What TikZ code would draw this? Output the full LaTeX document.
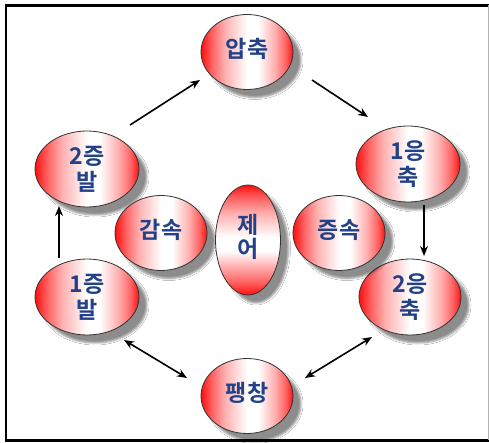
\documentclass[tikz,border=0pt]{standalone}
\usepackage{fontspec}
\newfontfamily\krfont{Noto Sans CJK KR}[BoldFont={* Bold}]
\usetikzlibrary{shapes.geometric,arrows.meta,shadows.blur}
\definecolor{txtblue}{RGB}{35,65,135}
\definecolor{bred}{RGB}{255,15,15}
\pgfdeclarehorizontalshading{rwr}{100bp}{color(0bp)=(bred); color(25bp)=(bred); color(31bp)=(bred!65!white); color(38bp)=(bred!33!white); color(50bp)=(white); color(56bp)=(white); color(65bp)=(bred!33!white); color(71bp)=(bred!65!white); color(75bp)=(bred); color(100bp)=(bred)}
\pgfdeclareverticalshading{rwrv}{100bp}{color(0bp)=(bred); color(25bp)=(bred); color(31bp)=(bred!65!white); color(38bp)=(bred!33!white); color(45bp)=(white); color(51bp)=(white); color(62bp)=(bred!33!white); color(69bp)=(bred!65!white); color(75bp)=(bred); color(100bp)=(bred)}
\tikzset{
  bub/.style={ellipse, draw=black!80, line width=0.8pt, shading=rwr,
    minimum width=92pt, minimum height=75pt, inner sep=0pt,
    font=\krfont\bfseries\fontsize{23}{26}\selectfont, text=txtblue, align=center,
    blur shadow={shadow xshift=8pt, shadow yshift=-8pt, shadow opacity=45, shadow blur steps=5, shadow blur radius=2pt}},
  wide/.style={minimum width=104pt, minimum height=76pt},
  tall/.style={minimum width=65pt, minimum height=110pt, shading=rwrv},
  arr/.style={line width=1.6pt, -{Stealth[length=10pt,width=8pt]}},
  darr/.style={line width=1.6pt, {Stealth[length=10pt,width=8pt]}-{Stealth[length=10pt,width=8pt]}}
}
\begin{document}
\begin{tikzpicture}[x=1pt,y=-1pt]
\useasboundingbox (0,0) rectangle (489,443);
\fill[white] (0,0) rectangle (489,443);
% frame
\draw[line width=2.8pt] (489,5.5) -- (6,5.5) -- (6,440.5) -- (489,440.5);
\draw[black!30, line width=1pt] (488,5.5) -- (488,440);
% nodes
\node[bub] (ap) at (247,52) {\raisebox{8pt}{압축}};
\node[bub,wide] (z2) at (87,169) {2증\\발};
\node[bub,wide] (u1) at (408,164) {1응\\축};
\node[bub,wide] (z1) at (87,297) {1증\\발};
\node[bub,wide,minimum width=102pt] (u2) at (410,297) {2응\\축};
\node[bub] (pc) at (247,396) {\raisebox{8pt}{팽창}};
\node[bub] (gs) at (161,233) {\raisebox{8pt}{감속}};
\node[bub] (js) at (339,233) {\raisebox{8pt}{증속}};
\node[bub,tall] (je) at (248,240) {\raisebox{8pt}{\begin{tabular}{@{}c@{}}제\\[-3pt]어\end{tabular}}};
% arrow anchors
\coordinate (a1s) at (130,125); \coordinate (a1e) at (200,80);
\coordinate (a2s) at (312,80);  \coordinate (a2e) at (368,117);
\coordinate (a3s) at (424,205); \coordinate (a3e) at (424,256);
\coordinate (a4s) at (59,258);  \coordinate (a4e) at (59,206);
\coordinate (a5s) at (124,340); \coordinate (a5e) at (187,378);
\coordinate (a6s) at (305,378); \coordinate (a6e) at (372,337);
\draw[arr] (a1s) -- (a1e);
\draw[arr] (a2s) -- (a2e);
\draw[arr] (a3s) -- (a3e);
\draw[arr] (a4s) -- (a4e);
\draw[darr] (a5s) -- (a5e);
\draw[darr] (a6s) -- (a6e);
\end{tikzpicture}
\end{document}
